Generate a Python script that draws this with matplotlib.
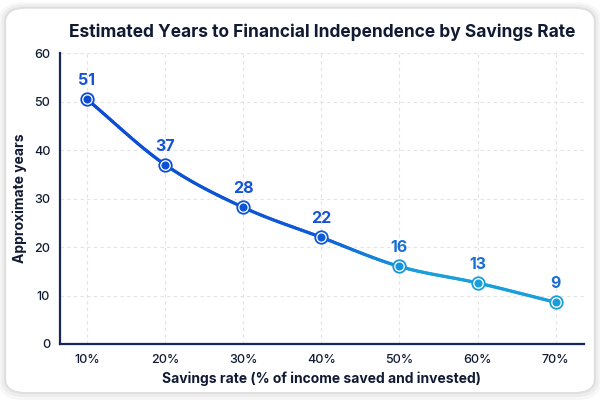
import matplotlib
matplotlib.use("Agg")
import matplotlib.pyplot as plt
import numpy as np
from matplotlib.collections import LineCollection
from matplotlib.patches import FancyBboxPatch
from matplotlib.colors import LinearSegmentedColormap

# data
rates = ["10%", "20%", "30%", "40%", "50%", "60%", "70%"]
years = [50.5, 37.0, 28.2, 22.0, 16.0, 12.6, 8.6]
labels = ["51", "37", "28", "22", "16", "13", "9"]

DARK = "#0b4bd3"
LIGHT = "#19a0dc"
NAVY = "#111a33"

plt.rcParams["font.family"] = ["Inter", "DejaVu Sans"]


def smooth(x, y, n=40):
    # catmull-rom through the points, just for the drawn curve
    x = np.asarray(x, float)
    y = np.asarray(y, float)
    px = np.concatenate([[2 * x[0] - x[1]], x, [2 * x[-1] - x[-2]]])
    py = np.concatenate([[2 * y[0] - y[1]], y, [2 * y[-1] - y[-2]]])
    xs, ys = [], []
    t = np.linspace(0, 1, n)
    for i in range(1, len(px) - 2):
        for p, out in ((px, xs), (py, ys)):
            p0, p1, p2, p3 = p[i - 1], p[i], p[i + 1], p[i + 2]
            out.append(0.5 * (2 * p1 + (-p0 + p2) * t
                              + (2 * p0 - 5 * p1 + 4 * p2 - p3) * t ** 2
                              + (-p0 + 3 * p1 - 3 * p2 + p3) * t ** 3))
    return np.concatenate(xs), np.concatenate(ys)


fig = plt.figure(figsize=(6, 4), dpi=100)
fig.patch.set_facecolor("white")

# rounded card with soft shadow
for k, a in enumerate([0.05, 0.04, 0.03]):
    fig.patches.append(FancyBboxPatch(
        (0.009 - k * 0.002, 0.018 - k * 0.004), 0.982 + k * 0.004, 0.962 + k * 0.006,
        boxstyle="round,pad=0,rounding_size=0.035", transform=fig.transFigure,
        facecolor="none", edgecolor=(0, 0, 0, a), linewidth=2 + k * 2, zorder=-2))
fig.patches.append(FancyBboxPatch(
    (0.009, 0.018), 0.982, 0.962, boxstyle="round,pad=0,rounding_size=0.035",
    transform=fig.transFigure, facecolor="white", edgecolor="#dedede",
    linewidth=1.0, zorder=-1))

ax = fig.add_axes([0.1, 0.14, 0.873, 0.727])
ax.set_facecolor("none")

x = np.arange(len(rates))
sx, sy = smooth(x, years)
pts = np.column_stack([sx, sy]).reshape(-1, 1, 2)
segs = np.concatenate([pts[:-1], pts[1:]], axis=1)
cmap = LinearSegmentedColormap.from_list(
    "fi", [(0, DARK), (3 / 6, "#0f5ad8"), (4.2 / 6, LIGHT), (1, LIGHT)])
lc = LineCollection(segs, colors=cmap((sx[:-1] + sx[1:]) / 2 / 6),
                    linewidth=2.3, capstyle="round", zorder=3)
ax.add_collection(lc)

pcol = cmap(x / 6)
for xi, yi, c, lab in zip(x, years, pcol, labels):
    ax.plot(xi, yi, "o", ms=9, mfc="white", mec=c, mew=1.3, zorder=4)
    ax.plot(xi, yi, "o", ms=5.8, mfc=c, mec=c, mew=0, zorder=5)
    ax.annotate(lab, (xi, yi), xytext=(0, 8), textcoords="offset points",
                ha="center", va="bottom", fontsize=11.5, fontweight="bold",
                color="#1653d4" if xi < 4 else "#1a6fd6", zorder=6)

ax.set_xlim(-0.345, 6.36)
ax.set_ylim(0, 60)
ax.set_xticks(x)
ax.set_xticklabels(rates)
ax.set_yticks(range(0, 61, 10))
ax.tick_params(length=0, pad=7, labelsize=9, labelcolor=NAVY)
for t in ax.get_xticklabels() + ax.get_yticklabels():
    t.set_fontweight("medium")

ax.grid(True, color="#e3e3e3", linestyle=(0, (3, 3)), linewidth=0.8)
ax.set_axisbelow(True)
for s in ["top", "right"]:
    ax.spines[s].set_visible(False)
for s in ["left", "bottom"]:
    ax.spines[s].set_color("#15275e")
    ax.spines[s].set_linewidth(1.6)

ax.set_xlabel("Savings rate (% of income saved and invested)", fontsize=10,
              fontweight="bold", color=NAVY, labelpad=4)
ax.set_ylabel("Approximate years", fontsize=10, fontweight="bold",
              color=NAVY, labelpad=5)
ax.set_title("Estimated Years to Financial Independence by Savings Rate",
             fontsize=12.5, fontweight="bold", color=NAVY, pad=12)

fig.savefig("out.png", dpi=100, facecolor="white")
